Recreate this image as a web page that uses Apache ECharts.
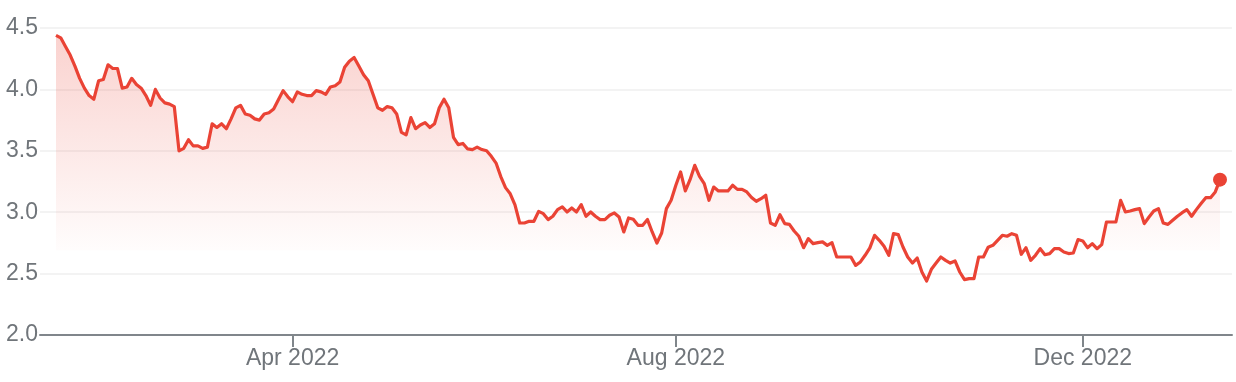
<!DOCTYPE html>
<html>
<head>
<meta charset="utf-8">
<script src="https://cdn.jsdelivr.net/npm/echarts@6/dist/echarts.min.js"></script>
<style>
html,body{margin:0;padding:0;background:#fff;}
#chart{width:1236px;height:382px;}
</style>
</head>
<body>
<div id="chart"></div>
<script>
// Daily closing values (one per trading day)
const prices = [
  4.44, 4.42, 4.35, 4.28, 4.19, 4.09, 4.01, 3.95, 3.92, 4.07,
  4.08, 4.20, 4.17, 4.17, 4.01, 4.02, 4.09, 4.04, 4.01, 3.95,
  3.87, 4.00, 3.93, 3.89, 3.88, 3.86, 3.50, 3.52, 3.59, 3.54,
  3.54, 3.52, 3.53, 3.72, 3.69, 3.72, 3.68, 3.76, 3.85, 3.87,
  3.80, 3.79, 3.76, 3.75, 3.80, 3.81, 3.84, 3.915, 3.99,
  3.94, 3.90, 3.98, 3.96, 3.95, 3.95, 3.99, 3.98, 3.96, 4.02,
  4.03, 4.06, 4.18, 4.23, 4.26, 4.19, 4.12, 4.07, 3.96, 3.85,
  3.83, 3.86, 3.85, 3.80, 3.65, 3.63, 3.77, 3.68, 3.71, 3.73,
  3.69, 3.72, 3.85, 3.92, 3.85, 3.61, 3.55, 3.56, 3.515, 3.51,
  3.53, 3.51, 3.50, 3.455, 3.40, 3.29, 3.20, 3.15,
  3.06, 2.912, 2.912, 2.926, 2.926, 3.007, 2.988, 2.94, 2.967, 3.021,
  3.043, 3.002, 3.034, 3.002, 3.062, 2.967, 3.002, 2.967, 2.94, 2.94,
  2.975, 2.994, 2.961, 2.839, 2.953, 2.942, 2.893, 2.893, 2.94, 2.839,
  2.749, 2.831, 3.029, 3.097, 3.219, 3.328, 3.173, 3.265, 3.382, 3.292,
  3.233, 3.097, 3.205, 3.173, 3.173, 3.173, 3.219, 3.186, 3.186, 3.165,
  3.12,
  3.089, 3.11, 3.138, 2.912, 2.893, 2.98, 2.907, 2.901, 2.847, 2.804,
  2.711, 2.785, 2.744, 2.752, 2.758, 2.73, 2.752, 2.635, 2.635, 2.635,
  2.635, 2.567, 2.595, 2.649, 2.709, 2.812, 2.771, 2.722, 2.649, 2.826,
  2.817, 2.717, 2.635, 2.586, 2.627, 2.513, 2.440, 2.535, 2.586, 2.635,
  2.608, 2.586, 2.603, 2.513, 2.451, 2.459, 2.459, 2.635, 2.635, 2.715,
  2.73, 2.771, 2.812, 2.804, 2.825, 2.812, 2.657, 2.711, 2.608, 2.649,
  2.703, 2.654, 2.663, 2.703, 2.703, 2.676, 2.663, 2.668, 2.777, 2.766,
  2.711, 2.744, 2.703, 2.736, 2.92, 2.92, 2.92, 3.097, 3.002, 3.01,
  3.021, 3.029, 2.907, 2.961, 3.01, 3.029, 2.912, 2.901, 2.934, 2.967,
  2.996, 3.021, 2.967, 3.021, 3.07, 3.118, 3.118, 3.165, 3.265
];
// Category = trading-day index
const days = prices.map((_, i) => i);
// Month ticks (trading-day index of first session of the month) and their labels
const tickIndex = [50, 131, 217];
const tickLabels = ['Apr 2022', 'Aug 2022', 'Dec 2022'];
// Y axis range and ticks
const yMin = 2.0, yMax = 4.5, yStep = 0.5;

const FONT = 'Arial, "Liberation Sans", sans-serif';
const lastIdx = prices.length - 1;

const chart = echarts.init(document.getElementById('chart'), null, {renderer: 'canvas'});
chart.setOption({
  animation: false,
  backgroundColor: '#ffffff',
  grid: [
    {left: 56, right: 16, top: 28, bottom: 47},
    {left: 40, right: 4, top: 28, bottom: 47}
  ],
  xAxis: [
    {
      type: 'category', gridIndex: 0, data: days, boundaryGap: false,
      axisLine: {show: false},
      axisTick: {
        show: true, length: 12,
        interval: (i) => tickIndex.indexOf(i) >= 0,
        lineStyle: {color: '#80868b', width: 2}
      },
      axisLabel: {
        show: true, margin: 12,
        interval: (i) => tickIndex.indexOf(i) >= 0,
        formatter: (v, i) => { const k = tickIndex.indexOf(Number(v)); return k >= 0 ? tickLabels[k] : ''; },
        color: '#70757a', fontSize: 23, fontFamily: FONT
      },
      splitLine: {show: false}
    },
    {
      type: 'value', gridIndex: 1, min: 0, max: 1,
      axisLine: {show: true, onZero: false, lineStyle: {color: '#80868b', width: 2}},
      axisTick: {show: false}, axisLabel: {show: false}, splitLine: {show: false}
    }
  ],
  yAxis: [
    {type: 'value', gridIndex: 0, min: yMin, max: yMax, show: false, splitLine: {show: false}},
    {
      type: 'value', gridIndex: 1, min: yMin, max: yMax, interval: yStep,
      axisLine: {show: false}, axisTick: {show: false},
      axisLabel: {
        margin: 2, color: '#70757a', fontSize: 23, fontFamily: FONT,
        formatter: (v) => v.toFixed(1)
      },
      splitLine: {show: true, lineStyle: {color: '#f3f3f3', width: 2}}
    }
  ],
  series: [
    {
      type: 'line', xAxisIndex: 0, yAxisIndex: 0, data: prices,
      showSymbol: false, z: 3,
      lineStyle: {color: '#ea4335', width: 3.2, join: 'round'},
      areaStyle: {
        color: new echarts.graphic.LinearGradient(0, 0, 0, 1, [
          {offset: 0, color: 'rgba(234,67,53,0.34)'},
          {offset: 0.715, color: 'rgba(234,67,53,0.02)'},
          {offset: 0.72, color: 'rgba(234,67,53,0)'},
          {offset: 1, color: 'rgba(234,67,53,0)'}
        ])
      }
    },
    {
      type: 'scatter', xAxisIndex: 0, yAxisIndex: 0, z: 4,
      data: [[lastIdx, prices[lastIdx]]],
      symbol: 'circle', symbolSize: 14,
      itemStyle: {color: '#ea4335', opacity: 1}
    }
  ]
});
</script>
</body>
</html>
